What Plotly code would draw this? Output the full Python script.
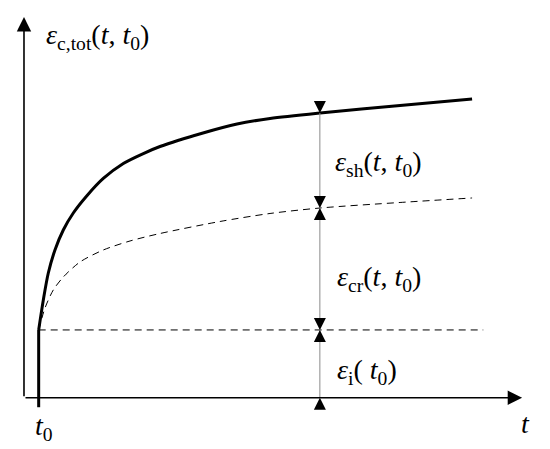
import plotly.graph_objects as go

# values (time axis 0-100, strain axis 0-100, arbitrary units)
t0 = 2.95
eps_i = 17.8
t_meas = 59.4

t_total = [2.95, 3.88, 4.88, 6.22, 7.89, 9.90, 12.59, 15.92, 19.94, 23.96, 27.31,
           35.94, 42.77, 49.40, 59.44, 75.50, 89.96]
eps_total = [17.78, 25.66, 32.76, 38.80, 44.05, 48.52, 52.98, 57.58, 61.52, 64.14, 65.98,
             69.53, 71.89, 73.34, 74.78, 76.75, 78.46]

t_creep = [2.95, 4.22, 5.88, 7.89, 11.24, 15.92, 21.29, 27.31, 39.36, 49.40, 59.44, 75.50, 89.96]
eps_creep = [17.78, 23.56, 28.29, 31.70, 35.64, 38.80, 41.17, 43.13, 46.29, 48.39, 49.83, 51.28, 52.46]

eps_creep_at_meas = 49.83
eps_total_at_meas = 74.78
t_end_dashed = 92.2

serif = "Liberation Serif"

fig = go.Figure()

# instantaneous strain level
fig.add_trace(go.Scatter(
    x=[t0, t_end_dashed], y=[eps_i, eps_i], mode="lines",
    line=dict(color="black", width=1, dash="7px,5px"), hoverinfo="skip",
))
# creep curve
fig.add_trace(go.Scatter(
    x=t_creep, y=eps_creep, mode="lines",
    line=dict(color="black", width=1, dash="7px,5px", shape="spline", smoothing=0.8),
    hoverinfo="skip",
))
# jump at loading
fig.add_trace(go.Scatter(
    x=[t0, t0], y=[-2.5, eps_i], mode="lines",
    line=dict(color="black", width=3), hoverinfo="skip",
))
# total strain curve
fig.add_trace(go.Scatter(
    x=t_total, y=eps_total, mode="lines",
    line=dict(color="black", width=3, shape="spline", smoothing=0.8),
    hoverinfo="skip",
))
# dimension line
fig.add_trace(go.Scatter(
    x=[t_meas, t_meas], y=[0, eps_total_at_meas], mode="lines",
    line=dict(color="#8a8a8a", width=1), hoverinfo="skip",
))

# arrow heads on the dimension line
levels = [0, eps_i, eps_creep_at_meas, eps_total_at_meas]
for lo, hi in zip(levels[:-1], levels[1:]):
    for y, ay in [(lo, 11), (hi, -11)]:
        fig.add_annotation(
            x=t_meas, y=y, ax=0, ay=ay, text="", showarrow=True,
            arrowhead=2, arrowsize=2.4, arrowwidth=1, arrowcolor="black",
        )

# axes drawn as arrows
fig.add_annotation(x=0, y=100, ax=0, ay=0, axref="x", ayref="y", text="",
                   showarrow=True, arrowhead=2, arrowsize=1.8, arrowwidth=1.6,
                   arrowcolor="black")
fig.add_annotation(x=100, y=0, ax=0, ay=0, axref="x", ayref="y", text="",
                   showarrow=True, arrowhead=2, arrowsize=1.8, arrowwidth=1.6,
                   arrowcolor="black")

labels = [
    (4.0, 95.0, "<i>ε</i><sub>c,tot</sub>(<i>t</i>, <i>t</i><sub>0</sub>)", "left"),
    (62.0, 61.6, "<i>ε</i><sub>sh</sub>(<i>t</i>, <i>t</i><sub>0</sub>)", "left"),
    (62.4, 31.2, "<i>ε</i><sub>cr</sub>(<i>t</i>, <i>t</i><sub>0</sub>)", "left"),
    (62.4, 7.0, "<i>ε</i><sub>i</sub>( <i>t</i><sub>0</sub>)", "left"),
    (100.6, -6.7, "<i>t</i>", "center"),
    (t0 + 1.0, -7.9, "<i>t</i><sub>0</sub>", "center"),
]
for x, y, txt, anchor in labels:
    fig.add_annotation(x=x, y=y, text=txt, showarrow=False, xanchor=anchor,
                       yanchor="middle", font=dict(family=serif, size=28, color="black"))

# the page body adds an 8px margin, so the figure covers window pixels 8..550 x 8..449
fig.update_xaxes(range=[-3.21, 105.6], visible=False, fixedrange=True)
fig.update_yaxes(range=[-13.47, 102.36], visible=False, fixedrange=True)
fig.update_layout(
    width=542, height=441,
    margin=dict(l=0, r=0, t=0, b=0),
    paper_bgcolor="white", plot_bgcolor="white",
    showlegend=False,
)

fig.write_html("out.html")
